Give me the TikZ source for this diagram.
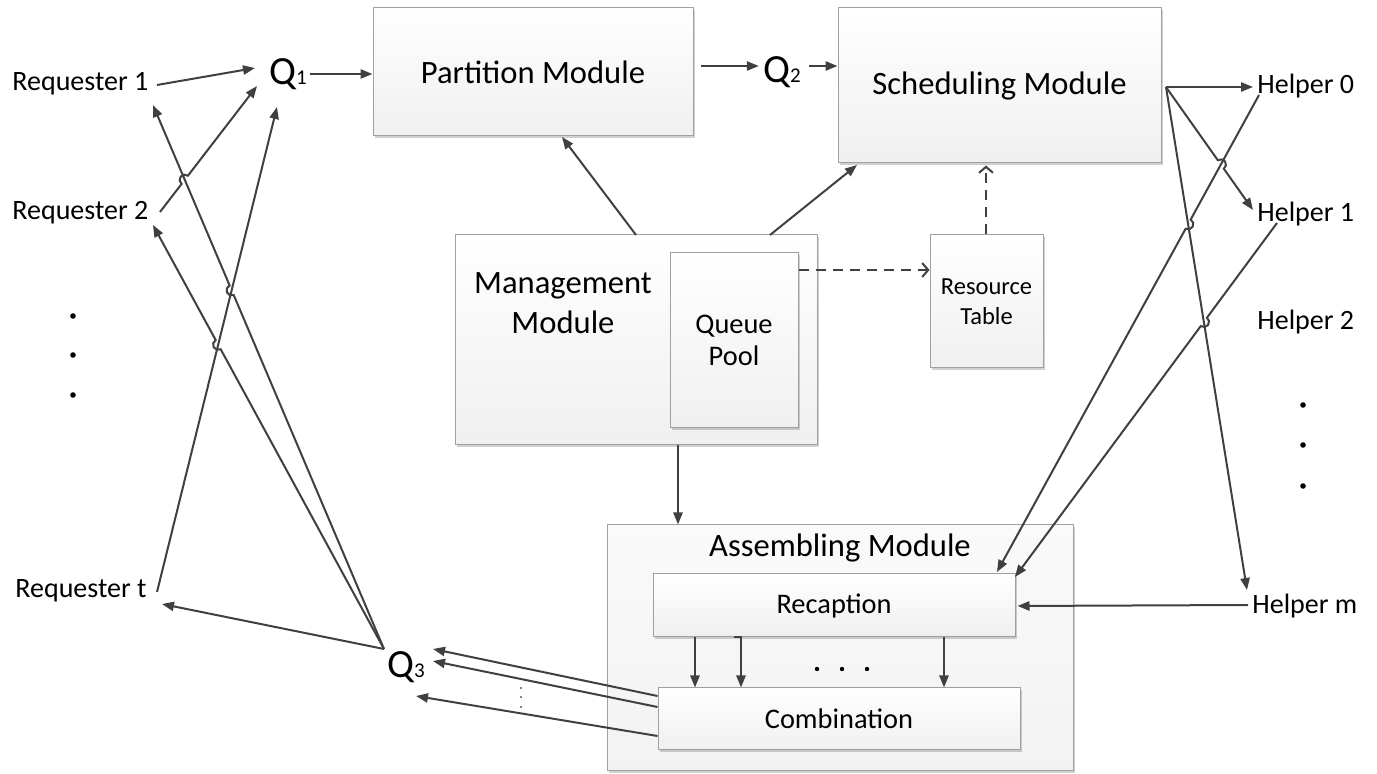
\documentclass[tikz,border=0pt]{standalone}
\usepackage{fontspec}
\setmainfont{Carlito}
\usetikzlibrary{arrows.meta,calc,fit,shadows}

\definecolor{ink}{HTML}{404040}
\definecolor{edge}{HTML}{A0A0A0}

\newcommand\hoprad{2.6pt}
% straight connector from #2 to #4 that jumps over a crossing line at #3
\newcommand\hopline[4][]{%
  \draw[#1] let \p1=($(#4)-(#2)$), \n1={atan2(\y1,\x1)} in
    (#2) -- ($(#3)!\hoprad!(#2)$)
    arc[start angle=\n1+180, delta angle=-180, radius=\hoprad] -- (#4);}
\newcommand\qsub[1]{{\fontsize{10.5}{12}\selectfont #1}}

\tikzset{
  conn/.style={draw=ink, line width=1pt, -{Triangle[length=6pt,width=4.6pt]}},
  dashconn/.style={draw=ink, line width=1pt, dash pattern=on 5pt off 3.5pt,
    -{Straight Barb[length=3pt,width=7pt]}},
  box/.style={draw=edge, line width=0.5pt, top color=white, bottom color=black!6,
    inner sep=0pt, drop shadow={shadow xshift=0.8pt, shadow yshift=-0.8pt,
    opacity=0.18, fill=black}},
  outerbox/.style={box, top color=black!2, bottom color=black!5},
  modtext/.style={font=\fontsize{16.3}{20}\selectfont, align=center},
  smalltext/.style={font=\fontsize{14.2}{16}\selectfont, align=center},
  lbl/.style={font=\fontsize{14}{18}\selectfont, inner sep=0pt},
  qlbl/.style={font=\fontsize{20}{24}\selectfont, inner sep=1.5pt},
  dot/.style={fill=black},
}

\begin{document}
\begin{tikzpicture}[x=0.5pt,y=-0.5pt]
\useasboundingbox (0,0) rectangle (1377,774);

% ---------- modules ----------
\node[box, fit={(373,8)(693,136)}] (pm) {};
\node[modtext] at (pm) {Partition Module};
\node[box, fit={(838,8)(1161,163)}] (sm) {};
\node[modtext] at (sm) {Scheduling Module};
\node[box, fit={(455,235)(817,445)}] (mm) {};
\node[modtext] (mmlbl) at (563,303) {Management\\Module};
\node[box, fit={(670,253)(798,428)}] (qp) {};
\node[smalltext] at (qp) {Queue\\Pool};
\node[box, fit={(930,235)(1043,368)}] (rtab) {};
\node[font=\fontsize{12.25}{15}\selectfont, align=center] at (rtab) {Resource\\Table};
\node[outerbox, fit={(607,525)(1073,771)}] (asm) {};
\node[modtext] (asmlbl) at (840,548) {Assembling Module};
\node[box, fit={(653,574)(1015,637)}] (rc) {};
\node[smalltext] at (rc) {Recaption};
\node[box, fit={(658,688)(1020,750)}] (cb) {};
\node[smalltext] at (cb) {Combination};

% ---------- requesters, helpers and queues ----------
\node[lbl, anchor=west] (r1) at (12,84) {Requester 1};
\node[lbl, anchor=west] (r2) at (12,213) {Requester 2};
\node[lbl, anchor=west] (rqt) at (15,591) {Requester t};
\node[lbl, anchor=west] (h0) at (1257,86) {Helper 0};
\node[lbl, anchor=west] (h1) at (1257,214) {Helper 1};
\node[lbl, anchor=west] (h2) at (1257,322) {Helper 2};
\node[lbl, anchor=west] (hm) at (1252,606) {Helper m};
\node[qlbl] (q1) at (288,74) {Q\qsub{1}};
\node[qlbl] (q2) at (782,72) {Q\qsub{2}};
\node[qlbl] (q3) at (406,667) {Q\qsub{3}};

\foreach \y in {316,355,395} \fill[dot] (73,\y) circle[radius=1.4pt];
\foreach \y in {405,445,486} \fill[dot] (1303,\y) circle[radius=1.4pt];
\foreach \x in {817,842,867} \fill[dot] (\x,669) circle[radius=1.1pt];
\foreach \y in {688,697,707} \fill[dot] (521,\y) circle[radius=0.4pt];

% ---------- connector end points ----------
\coordinate (r1o) at (157,85);   \coordinate (r1i) at (153,105);
\coordinate (r2o) at (160,212);  \coordinate (r2i) at (153,225);
\coordinate (rto) at (157,592);  \coordinate (rti) at (162,604);
\coordinate (q1i1) at (255,68);  \coordinate (q1i2) at (257,86);
\coordinate (q1i3) at (277,107);
\coordinate (q3o) at (384,649);
\coordinate (q3i1) at (433,649); \coordinate (q3i2) at (433,661);
\coordinate (q3i3) at (416,696);
\coordinate (cb1) at (cb.west |- 0,696);
\coordinate (cb2) at (cb.west |- 0,707);
\coordinate (cb3) at (cb.west |- 0,736);
\coordinate (so) at (1166,87);
\coordinate (h0i) at (1253,87);  \coordinate (h1i) at (1253,210);
\coordinate (hmi) at (1247,590);
\coordinate (h0o) at (1259,95);  \coordinate (h1o) at (1277,223);
\coordinate (hmo) at (1248,605);
\coordinate (rci0) at (997,572); \coordinate (rci1) at (1015,577);
\coordinate (mma) at (636,235);  \coordinate (pmb) at (562,137);
\coordinate (mmb) at (770,235);  \coordinate (smb) at (857,165);

% crossings where one connector jumps over another
\coordinate (x1) at (intersection of r2o--q1i2 and q3o--r1i);
\coordinate (x2) at (intersection of q3o--r1i and rto--q1i3);
\coordinate (x3) at (intersection of q3o--r2i and rto--q1i3);
\coordinate (x4) at (intersection of so--h1i and h0o--rci0);
\coordinate (x5) at (intersection of h0o--rci0 and so--hmi);
\coordinate (x6) at (intersection of h1o--rci1 and so--hmi);

% ---------- connectors ----------
\draw[conn] (r1o) -- (q1i1);
\hopline[conn]{r2o}{x1}{q1i2}
\draw[conn] (rto) -- (q1i3);
\hopline[conn]{q3o}{x2}{r1i}
\hopline[conn]{q3o}{x3}{r2i}
\draw[conn] (q3o) -- (rti);

\draw[conn] (q1.east) -- (q1.east -| pm.west);
\draw[conn] ($(pm.east |- 0,66)+(7,0)$) -- ($(q2.west |- 0,66)+(-1,0)$);
\draw[conn] ($(q2.east |- 0,66)+(5,0)$) -- (sm.west |- 0,66);

\draw[conn] (mma) -- (pmb);
\draw[conn] (mmb) -- (smb);
\draw[dashconn] (qp.east |- 0,270) -- (rtab.west |- 0,270);
\draw[dashconn] (986,0 |- rtab.north) -- ($(986,0 |- sm.south)+(0,2)$);
\draw[conn] (678,0 |- mm.south) -- (678,0 |- asm.north);

\draw[conn] (so) -- (h0i);
\hopline[conn]{so}{x4}{h1i}
\draw[conn] (so) -- (hmi);
\hopline[conn]{h0o}{x5}{rci0}
\hopline[conn]{h1o}{x6}{rci1}
\draw[conn] (hmo) -- ($(rc.east |- 0,606)+(2,0)$);

\draw[conn] (695,0 |- rc.south) -- (695,0 |- cb.north);
\draw[conn] (734,0 |- rc.south) -| (741,0 |- cb.north);
\draw[conn] (944,0 |- rc.south) -- (944,0 |- cb.north);

\draw[conn] (cb1) -- (q3i1);
\draw[conn] (cb2) -- (q3i2);
\draw[conn] (cb3) -- (q3i3);
\end{tikzpicture}
\end{document}
